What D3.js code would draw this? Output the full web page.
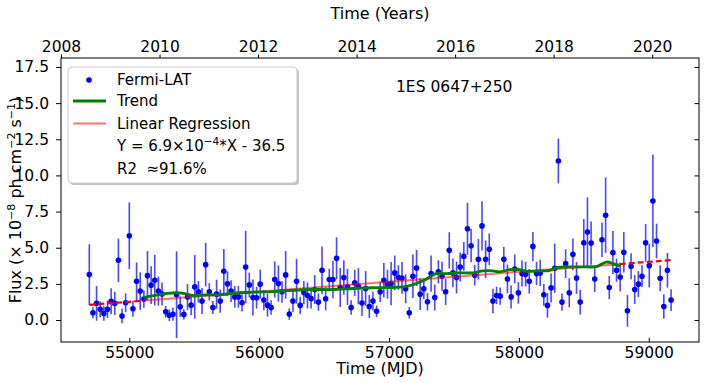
<!DOCTYPE html>
<meta charset="utf-8">
<style>
body { margin: 0; background: #fff; }
text { font-family: "DejaVu Sans", sans-serif; }
.pre { white-space: pre; }
</style>
<body>
<script src="https://d3js.org/d3.v7.min.js"></script>
<script>

var width = 706,
    height = 383,
    plotL = 61, plotR = 699, plotT = 58, plotB = 342;

// 28-day bins (MJD), flux (1e-8 ph cm-2 s-1) and 1-sigma errors
var mjd = [54692,54720,54748,54776,54804,54832,54860,54888,54916,54944,
  54972,55000,55028,55056,55084,55112,55140,55168,55196,55224,
  55252,55280,55308,55336,55364,55392,55420,55448,55476,55504,
  55532,55560,55588,55616,55644,55672,55700,55728,55756,55784,
  55812,55840,55868,55896,55924,55952,55980,56008,56036,56064,
  56092,56120,56148,56176,56204,56232,56260,56288,56316,56344,
  56372,56400,56428,56456,56484,56512,56540,56568,56596,56624,
  56652,56680,56708,56736,56764,56792,56820,56848,56876,56904,
  56932,56960,56988,57016,57044,57072,57100,57128,57156,57184,
  57212,57240,57268,57296,57324,57352,57380,57408,57436,57464,
  57492,57520,57548,57576,57604,57632,57660,57688,57716,57744,
  57772,57800,57828,57856,57884,57912,57940,57968,57996,58024,
  58052,58080,58108,58136,58164,58192,58220,58248,58276,58304,
  58332,58360,58388,58416,58444,58472,58500,58528,58556,58584,
  58640,58668,58696,58724,58752,58780,58808,58836,58864,58892,
  58920,58948,58976,59004,59032,59060,59088,59116,59144,59172];

var flux = [3.14,0.50,1.15,0.74,0.45,0.74,1.30,1.15,4.13,0.28,
  1.19,5.83,0.78,2.68,2.00,1.45,3.07,2.41,2.75,2.00,
  1.80,0.57,0.33,0.40,1.75,0.92,0.39,1.60,1.03,2.29,
  1.95,1.31,3.83,1.95,0.87,1.79,1.31,3.37,2.50,2.00,
  1.60,1.60,1.19,3.67,2.43,1.56,1.54,2.48,1.38,1.03,
  0.87,2.80,2.52,1.95,3.12,0.41,1.31,2.68,1.01,1.90,
  1.70,1.49,2.11,1.24,3.44,1.47,2.80,2.80,4.27,2.25,
  2.94,2.29,0.87,2.57,2.34,1.17,2.18,0.94,1.31,0.60,
  1.95,2.75,2.48,2.52,3.26,2.94,2.91,2.16,0.50,3.03,
  3.60,1.79,2.16,1.26,3.21,1.56,3.33,3.03,1.95,4.82,
  3.26,2.94,3.67,4.40,6.31,5.14,3.10,4.20,6.51,4.20,
  4.89,1.31,1.70,1.65,4.20,2.84,1.60,3.53,1.88,3.21,
  3.17,2.68,5.09,3.21,3.26,1.74,1.01,2.22,3.58,11.0,
  1.24,3.90,1.88,4.54,2.91,1.24,5.34,6.08,5.32,2.84,
  5.55,7.25,2.25,4.66,3.44,2.98,4.68,0.64,3.72,2.11,
  2.48,3.03,5.34,3.76,8.23,5.46,2.89,0.94,3.44,1.38];

var fluxErr = [2.1,0.38,1.2,0.55,0.5,0.6,0.9,0.8,1.5,0.5,
  0.65,2.3,0.55,1.3,1.3,0.6,1.7,1.3,1.75,1.0,
  0.8,0.4,0.4,0.45,3.0,0.7,0.35,0.9,0.7,2.2,
  0.75,0.9,1.5,0.6,0.45,1.0,0.8,1.55,0.85,0.75,
  0.75,0.75,0.6,2.5,0.85,1.25,0.75,1.0,0.7,0.8,
  0.5,1.25,1.25,0.75,1.65,0.4,0.75,1.55,0.6,0.8,
  0.9,0.7,1.0,0.6,1.65,0.8,0.75,1.3,1.45,1.35,
  1.2,1.25,0.5,0.9,1.25,0.9,1.2,0.8,0.65,0.4,
  0.7,1.2,1.0,1.5,1.2,0.85,1.1,1.0,0.4,1.5,
  1.25,1.1,0.7,0.6,1.25,0.9,0.8,1.0,0.9,1.25,
  1.0,1.1,1.0,1.0,1.8,1.15,0.7,1.4,1.7,1.3,
  1.1,0.85,0.6,0.6,0.85,1.0,0.8,1.0,0.75,0.9,
  0.85,0.85,1.0,0.8,0.9,0.75,0.85,1.0,1.7,1.55,
  0.6,1.0,1.0,1.1,1.1,0.85,1.65,2.4,1.5,0.9,
  1.2,2.6,0.8,1.5,0.8,1.0,1.4,1.1,0.9,1.0,
  0.9,0.75,1.3,1.5,3.2,1.2,0.9,0.85,1.2,0.75];

// smoothed trend
var trendMJD = [55108,55211,55288,55390,55442,55493,55596,55698,55801,55955,
  56109,56263,56417,56571,56723,56877,57031,57108,57185,57262,
  57364,57441,57544,57647,57724,57801,57852,57930,58007,58058,
  58161,58238,58289,58392,58520,58597,58674,58725,58777];
var trendFlux = [1.56,1.72,1.84,1.88,1.79,1.70,1.74,1.74,1.86,1.93,
  1.97,2.06,2.11,2.11,2.18,2.23,2.25,2.29,2.45,2.71,
  3.21,3.21,3.26,3.26,3.40,3.40,3.33,3.49,3.49,3.37,
  3.40,3.44,3.62,3.67,3.67,3.69,4.01,3.90,3.72];

// linear regression, fitted range and extrapolated ends
var regMJD = [55108, 58777];
var regFlux = [1.34, 3.87];
var extMJD = [[54692, 55108], [58777, 59172]];
var extFlux = [[1.05, 1.34], [3.87, 4.14]];

var mjdTicks = [55000, 56000, 57000, 58000, 59000];
var yearTicks = [2008, 2010, 2012, 2014, 2016, 2018, 2020];
var fluxTicks = [0, 2.5, 5, 7.5, 10, 12.5, 15, 17.5];

var x = d3.scaleLinear().domain([54474, 59387]).range([plotL, plotR]);
var xYear = d3.scaleLinear().domain([2008, 2020.95]).range([plotL, plotR]);
var y = d3.scaleLinear().domain([-1.52, 18.12]).range([plotB, plotT]);

var svg = d3.select("body").append("svg")
    .attr("width", width)
    .attr("height", height);

var points = mjd.map(function(d, i) { return {t: d, f: flux[i], e: fluxErr[i]}; });

var plot = svg.append("g");

// error bars
plot.selectAll(".err")
    .data(points)
  .enter().append("line")
    .attr("x1", function(d) { return x(d.t); })
    .attr("x2", function(d) { return x(d.t); })
    .attr("y1", function(d) { return y(d.f - d.e); })
    .attr("y2", function(d) { return y(d.f + d.e); })
    .attr("stroke", "#1a1aff")
    .attr("stroke-opacity", 0.8)
    .attr("stroke-width", 1.6);

plot.selectAll(".pt")
    .data(points)
  .enter().append("circle")
    .attr("cx", function(d) { return x(d.t); })
    .attr("cy", function(d) { return y(d.f); })
    .attr("r", 2.8)
    .attr("fill", "#0000ff");

var line = d3.line()
    .x(function(d) { return x(d[0]); })
    .y(function(d) { return y(d[1]); });

extMJD.forEach(function(seg, k) {
  plot.append("path")
      .attr("d", line(seg.map(function(t, i) { return [t, extFlux[k][i]]; })))
      .attr("fill", "none")
      .attr("stroke", "#ff0000")
      .attr("stroke-width", 2.2)
      .attr("stroke-dasharray", "6,3");
});

plot.append("path")
    .attr("d", line(regMJD.map(function(t, i) { return [t, regFlux[i]]; })))
    .attr("fill", "none")
    .attr("stroke", "#ff0000")
    .attr("stroke-opacity", 0.55)
    .attr("stroke-width", 2.2);

plot.append("path")
    .attr("d", line.curve(d3.curveCatmullRom)(trendMJD.map(function(t, i) { return [t, trendFlux[i]]; })))
    .attr("fill", "none")
    .attr("stroke", "#008000")
    .attr("stroke-width", 2.8);

// axes
function style(g) {
  g.attr("font-family", "DejaVu Sans").attr("font-size", 15.5);
  g.select(".domain").remove();
  g.selectAll("line").attr("stroke", "#000").attr("stroke-width", 1);
}

svg.append("g")
    .attr("transform", "translate(0," + plotB + ")")
    .call(d3.axisBottom(x).tickValues(mjdTicks).tickSize(-4).tickPadding(5).tickFormat(d3.format("d")))
    .call(style);

svg.append("g")
    .attr("transform", "translate(0," + plotT + ")")
    .call(d3.axisTop(xYear).tickValues(yearTicks).tickSize(3.5).tickPadding(3).tickFormat(d3.format("d")))
    .call(style);

svg.append("g")
    .attr("transform", "translate(" + plotL + ",0)")
    .call(d3.axisLeft(y).tickValues(fluxTicks).tickSize(5).tickPadding(7).tickFormat(d3.format(".1f")))
    .call(style);

svg.append("g")
    .attr("transform", "translate(" + plotR + ",0)")
    .call(d3.axisRight(y).tickValues(fluxTicks).tickSize(-4.5).tickFormat(""))
    .call(style);

svg.append("rect")
    .attr("x", plotL).attr("y", plotT)
    .attr("width", plotR - plotL).attr("height", plotB - plotT)
    .attr("fill", "none")
    .attr("stroke", "#000")
    .attr("stroke-width", 1);

// labels
svg.append("text")
    .attr("x", (plotL + plotR) / 2).attr("y", 374)
    .attr("text-anchor", "middle").attr("font-size", 16)
    .text("Time (MJD)");

svg.append("text")
    .attr("x", (plotL + plotR) / 2).attr("y", 19)
    .attr("text-anchor", "middle").attr("font-size", 16)
    .text("Time (Years)");

var yl = svg.append("text")
    .attr("transform", "translate(21," + ((plotT + plotB) / 2) + ") rotate(-90)")
    .attr("text-anchor", "middle").attr("font-size", 16);
yl.append("tspan").text("Flux (\u00d7 10");
yl.append("tspan").attr("baseline-shift", "super").attr("font-size", 11).text("\u22128");
yl.append("tspan").text(" ph cm");
yl.append("tspan").attr("baseline-shift", "super").attr("font-size", 11).text("\u22122");
yl.append("tspan").text(" s");
yl.append("tspan").attr("baseline-shift", "super").attr("font-size", 11).text("\u22121");
yl.append("tspan").text(")");

svg.append("text")
    .attr("x", 396).attr("y", 92)
    .attr("font-size", 15.5)
    .text("1ES 0647+250");

// legend
var lg = svg.append("g");
lg.append("rect")
    .attr("x", 70).attr("y", 69).attr("width", 229).attr("height", 116)
    .attr("rx", 4).attr("fill", "#888").attr("fill-opacity", 0.5);
lg.append("rect")
    .attr("x", 68).attr("y", 67).attr("width", 229).attr("height", 116)
    .attr("rx", 4).attr("fill", "#fff").attr("stroke", "#ccc").attr("stroke-width", 1);

lg.append("circle").attr("cx", 89).attr("cy", 80).attr("r", 2.8).attr("fill", "#0000ff");
lg.append("line").attr("x1", 73).attr("x2", 106).attr("y1", 101).attr("y2", 101)
    .attr("stroke", "#008000").attr("stroke-width", 2.8);
lg.append("line").attr("x1", 73).attr("x2", 106).attr("y1", 123.5).attr("y2", 123.5)
    .attr("stroke", "#ff0000").attr("stroke-opacity", 0.55).attr("stroke-width", 2.2);

var ltx = 117, lfs = 15;
lg.append("text").attr("x", ltx).attr("y", 85).attr("font-size", lfs).text("Fermi-LAT");
lg.append("text").attr("x", ltx).attr("y", 106).attr("font-size", lfs).text("Trend");
lg.append("text").attr("x", ltx).attr("y", 128.5).attr("font-size", lfs).text("Linear Regression");
var eq = lg.append("text").attr("x", ltx).attr("y", 151).attr("font-size", lfs);
eq.append("tspan").text("Y = 6.9\u00d710");
eq.append("tspan").attr("baseline-shift", "super").attr("font-size", 10.5).text("\u22124");
eq.append("tspan").text("*X - 36.5");
lg.append("text").attr("class", "pre").attr("x", ltx).attr("y", 173.5).attr("font-size", lfs)
    .text("R2  \u224891.6%");

</script>
